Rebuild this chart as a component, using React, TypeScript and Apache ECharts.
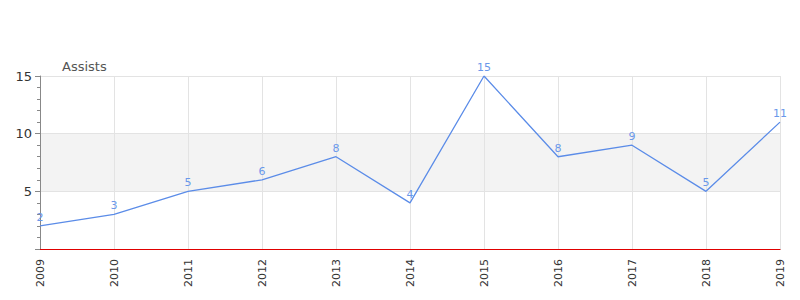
import React, { useEffect, useRef } from "react";
import * as echarts from "echarts";

const years = ["2009", "2010", "2011", "2012", "2013", "2014", "2015", "2016", "2017", "2018", "2019"];
const assists = [2, 3, 5, 6, 8, 4, 15, 8, 9, 5, 11];
const seriesName = "Assists";

export default function App() {
  const ref = useRef<HTMLDivElement>(null);
  useEffect(() => {
    if (!ref.current) return;
    const chart = echarts.init(ref.current, null, { renderer: "svg" });
    chart.setOption({
      animation: false,
      textStyle: { fontFamily: "DejaVu Sans" },
      title: {
        text: seriesName,
        left: 49,
        top: 47,
        textStyle: { fontSize: 13, fontWeight: "normal", color: "#555" },
      },
      grid: { left: 32, right: 20, top: 68, bottom: 51 },
      xAxis: [
        {
          type: "category",
          data: years,
          boundaryGap: false,
          position: "bottom",
          offset: 1,
          axisLine: { lineStyle: { color: "#999", width: 1 } },
          axisTick: { show: false },
          axisLabel: { show: false },
          splitLine: { show: false },
        },
        {
          type: "category",
          data: years,
          boundaryGap: false,
          position: "bottom",
          axisLine: { lineStyle: { color: "#e00000", width: 1 } },
          axisTick: { show: false },
          axisLabel: { rotate: 90, fontSize: 11, color: "#333", margin: 10 },
          splitLine: { show: true, lineStyle: { color: "#e3e3e3" } },
        },
      ],
      yAxis: {
        type: "value",
        min: 0,
        max: 15,
        interval: 5,
        axisLine: { show: true, lineStyle: { color: "#888" } },
        axisTick: { show: true, length: 5, lineStyle: { color: "#888" } },
        minorTick: { show: true, splitNumber: 5, length: 3, lineStyle: { color: "#888" } },
        axisLabel: {
          fontSize: 13,
          color: "#333",
          margin: 8,
          formatter: (v: number) => (v === 0 ? "" : String(v)),
        },
        splitLine: { show: true, lineStyle: { color: "#e3e3e3" } },
        splitArea: { show: true, areaStyle: { color: ["#ffffff", "#f3f3f3"] } },
      },
      series: [
        {
          name: seriesName,
          type: "line",
          xAxisIndex: 1,
          data: assists,
          showSymbol: true,
          symbol: "circle",
          symbolSize: 0,
          lineStyle: { color: "#5b8ce8", width: 1.3 },
          itemStyle: { color: "#5b8ce8" },
          label: {
            show: true,
            position: "top",
            distance: 3,
            fontSize: 11,
            color: "#6a98ea",
          },
        },
      ],
    });
    return () => chart.dispose();
  }, []);
  return <div ref={ref} style={{ width: 792, height: 292 }} />;
}
